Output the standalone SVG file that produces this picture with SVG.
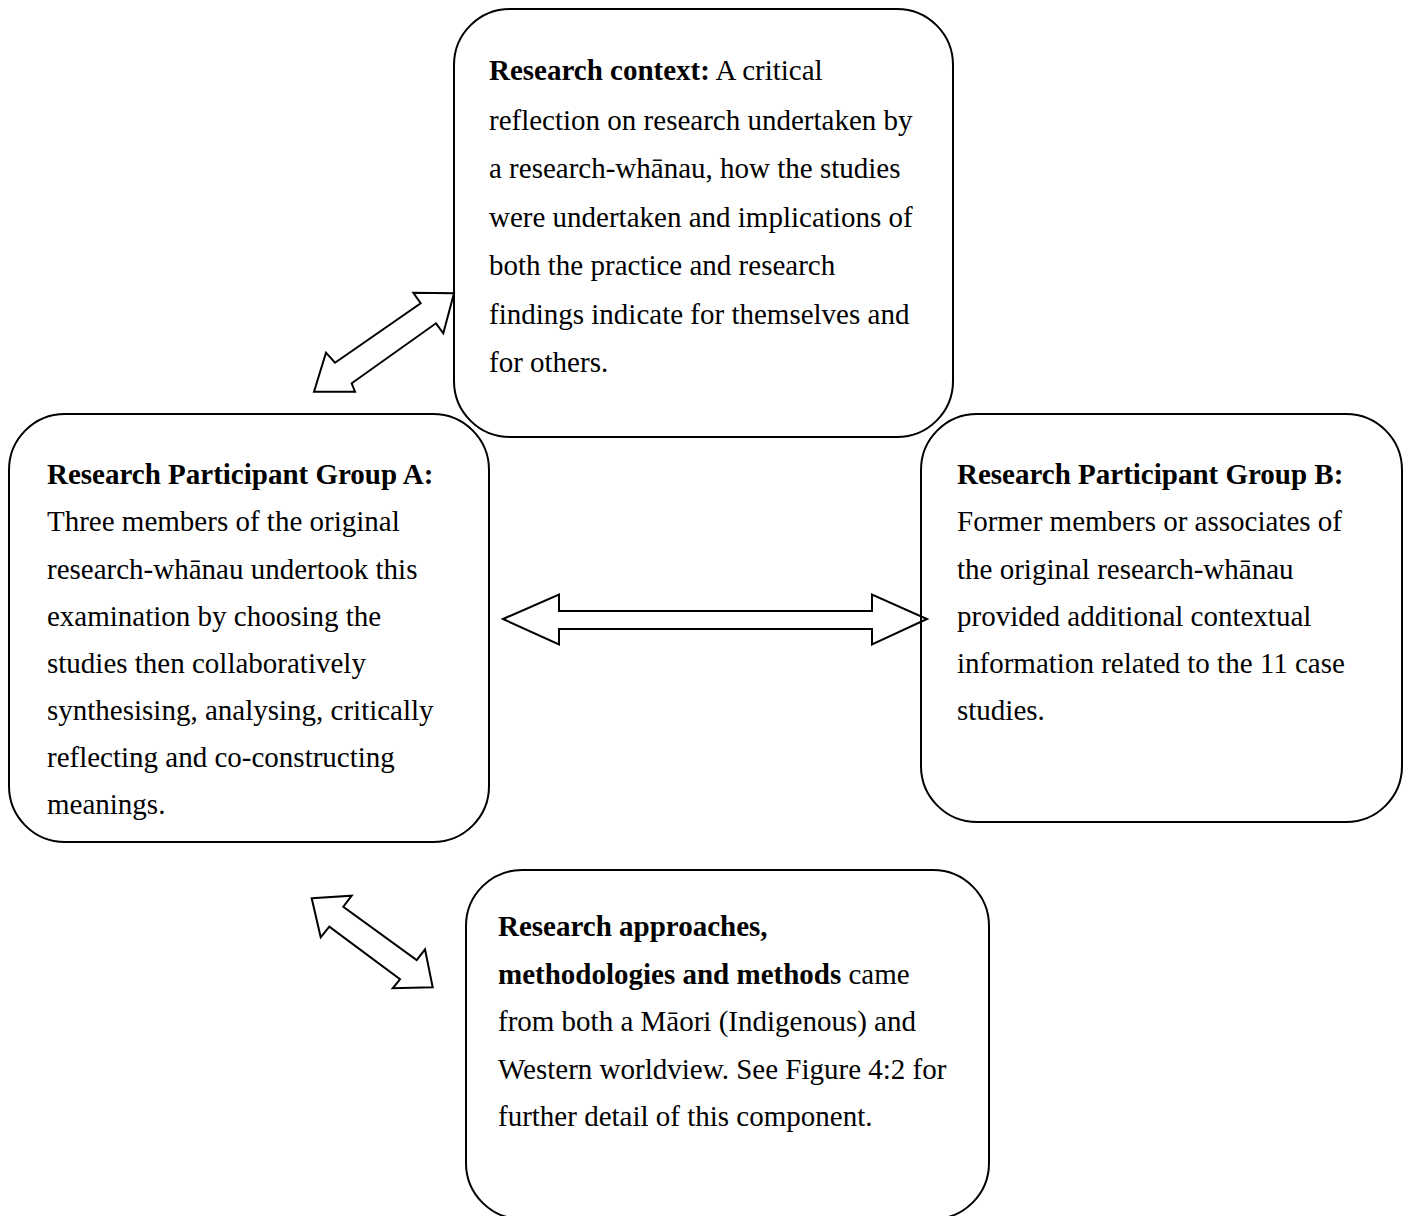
<svg xmlns="http://www.w3.org/2000/svg" width="1412" height="1216" viewBox="0 0 1412 1216">
<style>
.box{fill:none;stroke:#000;stroke-width:2}
.arr{fill:#fff;stroke:#000;stroke-width:2;stroke-linejoin:miter}
text{font-family:"Liberation Serif","Times New Roman",serif;font-size:29px;fill:#000}
.b{font-weight:bold}
</style>
<rect width="1412" height="1216" fill="#fff"/>
<g id="connectors">
<path class="arr" d="M314,391.7 L326,352.7 L335,362.7 L420.7,303.3 L413.3,292.7 L454,293.3 L443.3,333.3 L436,323.3 L351.7,383.3 L355,391.7 Z"/>
<path class="arr" d="M503,619 L559,594.5 L559,611 L872,611 L872,594.5 L927,619 L872,644.5 L872,629 L559,629 L559,644.5 Z"/>
<path class="arr" d="M311.7,898.3 L351.7,895.7 L343.3,906.7 L416.7,960 L425,949.3 L432.7,987.3 L392.7,988.3 L400,979.3 L329.3,926.7 L320.7,937.3 Z"/>
</g>
<g id="context">
<rect class="box" x="454" y="9" width="499" height="428" rx="56" ry="56"/>
<text x="489" y="80"><tspan class="b">Research context:</tspan> A critical</text>
<text x="489" y="129.5">reflection on research undertaken by</text>
<text x="489" y="178">a research-whānau, how the studies</text>
<text x="489" y="226.5">were undertaken and implications of</text>
<text x="489" y="275">both the practice and research</text>
<text x="489" y="323.5">findings indicate for themselves and</text>
<text x="489" y="372">for others.</text>
</g>
<g id="groupA">
<rect class="box" x="9" y="414" width="480" height="428" rx="56" ry="56"/>
<text x="47" y="483.5"><tspan class="b">Research Participant Group A:</tspan></text>
<text x="47" y="531">Three members of the original</text>
<text x="47" y="578.5">research-whānau undertook this</text>
<text x="47" y="626">examination by choosing the</text>
<text x="47" y="673">studies then collaboratively</text>
<text x="47" y="720">synthesising, analysing, critically</text>
<text x="47" y="767">reflecting and co-constructing</text>
<text x="47" y="814">meanings.</text>
</g>
<g id="groupB">
<rect class="box" x="921" y="414" width="481" height="408" rx="56" ry="56"/>
<text x="957" y="483.5"><tspan class="b">Research Participant Group B:</tspan></text>
<text x="957" y="531">Former members or associates of</text>
<text x="957" y="578.5">the original research-whānau</text>
<text x="957" y="626">provided additional contextual</text>
<text x="957" y="673">information related to the 11 case</text>
<text x="957" y="720">studies.</text>
</g>
<g id="approaches">
<rect class="box" x="466" y="870" width="523" height="349" rx="56" ry="56"/>
<text x="498" y="936"><tspan class="b">Research approaches,</tspan></text>
<text x="498" y="983.5"><tspan class="b">methodologies and methods</tspan> came</text>
<text x="498" y="1031">from both a Māori (Indigenous) and</text>
<text x="498" y="1078.5">Western worldview. See Figure 4:2 for</text>
<text x="498" y="1126">further detail of this component.</text>
</g>
</svg>
